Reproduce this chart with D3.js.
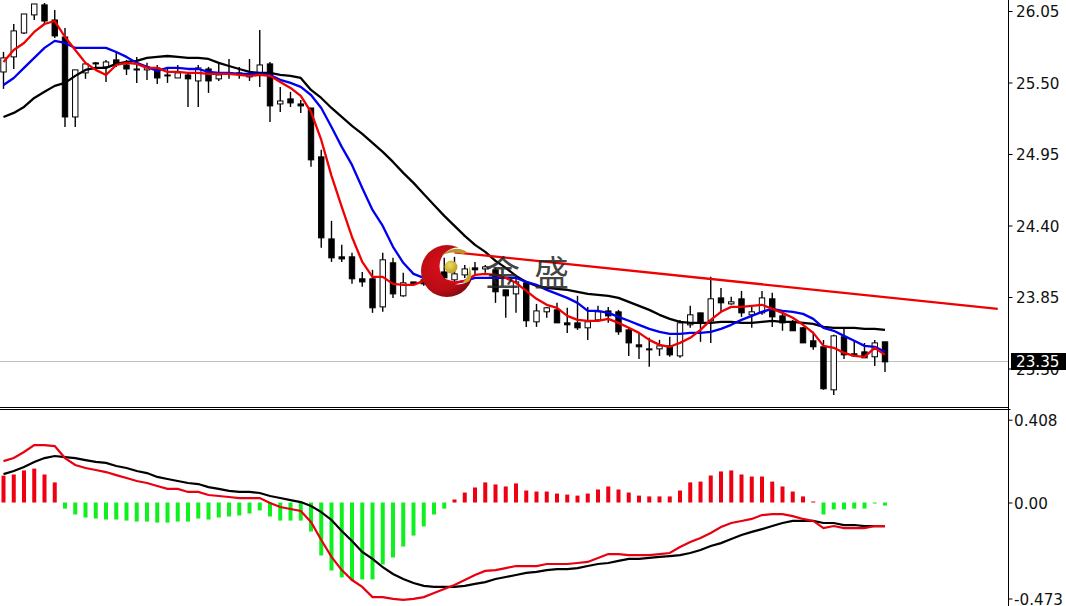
<!DOCTYPE html>
<html>
<head>
<meta charset="utf-8">
<script src="https://cdn.jsdelivr.net/npm/d3@7/dist/d3.min.js"></script>
<style>
html,body{margin:0;padding:0;background:#fff;overflow:hidden}
svg{display:block}
</style>
</head>
<body>
<svg id="c" width="1066" height="606"></svg>
<script>
const opens=[25.581,25.697,25.881,26.02,26.097,25.981,25.85,25.235,25.574,25.651,25.62,25.674,25.635,25.604,25.597,25.612,25.558,25.535,25.558,25.512,25.604,25.528,25.574,25.574,25.558,25.566,25.643,25.335,25.374,25.335,
25.304,24.928,24.297,24.159,24.159,23.99,23.99,23.774,24.113,23.859,23.966,23.982,23.943,24.043,23.982,24.02,24.074,24.066,24.059,23.905,23.874,23.959,23.659,23.736,23.751,23.651,23.651,23.613,23.674,
23.743,23.736,23.597,23.482,23.451,23.451,23.474,23.397,23.636,23.728,23.667,23.843,23.797,23.836,23.713,23.728,23.836,23.705,23.659,23.613,23.513,23.467,23.136,23.544,23.413,23.428,23.39,23.505];
const highs=[25.735,25.95,26.027,26.104,26.112,26.058,25.92,25.597,25.651,25.658,25.674,25.735,25.674,25.697,25.651,25.635,25.612,25.635,25.581,25.635,25.62,25.651,25.681,25.62,25.681,25.904,25.658,25.466,25.428,25.366,
25.304,24.982,24.436,24.251,24.19,24.043,24.059,24.19,24.151,24.036,23.966,23.982,24.059,24.151,24.159,24.097,24.12,24.097,24.074,23.905,24.005,23.966,23.797,23.774,23.805,23.767,23.859,23.774,23.782,
23.774,23.751,23.613,23.574,23.536,23.52,23.544,23.674,23.782,23.728,24.005,23.92,23.851,23.897,23.774,23.897,23.882,23.728,23.674,23.62,23.582,23.52,23.559,23.62,23.52,23.497,23.52,23.505];
const lows=[25.451,25.604,25.873,25.981,25.95,25.843,25.158,25.158,25.528,25.604,25.504,25.62,25.558,25.497,25.52,25.489,25.497,25.535,25.312,25.312,25.42,25.512,25.528,25.528,25.512,25.466,25.197,25.274,25.312,25.266,
24.851,24.228,24.12,24.12,23.951,23.928,23.728,23.736,23.843,23.851,23.951,23.936,23.905,23.959,23.966,23.997,24.02,24.036,23.805,23.69,23.728,23.62,23.62,23.69,23.651,23.574,23.597,23.52,23.659,
23.651,23.559,23.397,23.374,23.313,23.397,23.39,23.382,23.613,23.505,23.497,23.728,23.79,23.697,23.613,23.713,23.62,23.59,23.59,23.497,23.444,23.136,23.097,23.374,23.39,23.382,23.32,23.274];
const closes=[25.689,25.897,26.027,26.104,25.973,25.858,25.235,25.597,25.643,25.643,25.658,25.643,25.604,25.597,25.62,25.535,25.551,25.574,25.528,25.612,25.512,25.558,25.566,25.566,25.543,25.635,25.32,25.358,25.343,25.32,
24.905,24.305,24.151,24.143,23.99,23.966,23.767,24.136,23.874,23.959,23.951,23.951,23.997,23.997,24.028,24.066,24.059,24.082,23.89,23.859,23.966,23.667,23.743,23.767,23.651,23.636,23.613,23.659,23.736,
23.705,23.582,23.497,23.467,23.444,23.474,23.405,23.651,23.713,23.651,23.836,23.805,23.813,23.728,23.736,23.843,23.697,23.651,23.59,23.497,23.467,23.144,23.551,23.405,23.397,23.382,23.497,23.351];
const maFast=[25.658,25.75,25.804,25.889,25.95,25.973,25.85,25.75,25.651,25.597,25.558,25.635,25.651,25.643,25.612,25.612,25.581,25.581,25.574,25.574,25.566,25.566,25.566,25.558,25.551,25.558,25.551,25.504,25.458,25.397,
25.274,25.058,24.782,24.543,24.312,24.12,24.005,24.005,23.951,23.943,23.943,23.974,23.99,23.982,23.959,23.974,24.02,24.028,24.02,23.997,23.959,23.897,23.836,23.79,23.767,23.705,23.674,23.667,23.667,
23.682,23.651,23.613,23.574,23.52,23.482,23.467,23.497,23.536,23.597,23.674,23.736,23.774,23.774,23.782,23.79,23.759,23.728,23.69,23.636,23.574,23.474,23.459,23.42,23.397,23.39,23.459,23.405];
const maMid=[25.481,25.535,25.612,25.689,25.766,25.82,25.804,25.766,25.766,25.766,25.766,25.735,25.697,25.651,25.62,25.589,25.612,25.612,25.604,25.604,25.581,25.574,25.574,25.566,25.566,25.566,25.558,25.52,25.497,25.466,
25.404,25.304,25.158,25.005,24.866,24.689,24.52,24.397,24.236,24.113,24.028,23.997,23.982,23.966,23.959,23.974,23.997,23.997,23.997,23.997,23.997,23.966,23.943,23.905,23.874,23.843,23.805,23.743,23.743,
23.728,23.697,23.667,23.636,23.605,23.582,23.567,23.567,23.574,23.574,23.582,23.605,23.636,23.674,23.705,23.736,23.759,23.743,23.736,23.72,23.682,23.613,23.59,23.551,23.513,23.474,23.467,23.428];
const maSlow=[25.235,25.266,25.312,25.381,25.428,25.474,25.497,25.551,25.597,25.612,25.612,25.643,25.658,25.666,25.689,25.697,25.704,25.697,25.689,25.689,25.681,25.651,25.627,25.604,25.581,25.574,25.574,25.558,25.551,25.535,
25.443,25.381,25.304,25.235,25.166,25.105,25.035,24.966,24.889,24.805,24.728,24.643,24.558,24.474,24.397,24.32,24.251,24.197,24.128,24.074,24.012,23.966,23.936,23.92,23.912,23.905,23.89,23.874,23.866,
23.859,23.843,23.813,23.782,23.751,23.713,23.682,23.659,23.651,23.651,23.651,23.659,23.659,23.651,23.651,23.659,23.667,23.659,23.659,23.651,23.643,23.62,23.613,23.613,23.613,23.605,23.605,23.597];
const macdRed=[.204,.219,.249,.283,.283,.278,.219,.185,.170,.160,.150,.135,.121,.106,.096,.081,.067,.067,.052,.052,.037,.032,.027,.022,.022,.022,-.002,-.022,-.032,-.042,
-.096,-.185,-.268,-.333,-.382,-.416,-.466,-.466,-.475,-.480,-.475,-.466,-.446,-.426,-.406,-.382,-.357,-.337,-.333,-.323,-.313,-.313,-.313,-.303,-.303,-.303,-.298,-.293,-.273,
-.254,-.254,-.259,-.259,-.259,-.254,-.249,-.219,-.195,-.175,-.150,-.121,-.101,-.091,-.081,-.062,-.057,-.057,-.067,-.081,-.091,-.126,-.116,-.126,-.126,-.126,-.116,-.116];
const macdBlack=[.140,.155,.175,.200,.219,.229,.224,.219,.209,.200,.195,.180,.170,.155,.145,.126,.116,.106,.096,.091,.076,.067,.057,.052,.052,.047,.032,.022,.012,.002,
-.017,-.047,-.086,-.140,-.190,-.244,-.278,-.318,-.352,-.377,-.397,-.411,-.416,-.416,-.416,-.411,-.401,-.392,-.377,-.367,-.357,-.347,-.342,-.333,-.328,-.328,-.323,-.313,-.303,
-.298,-.288,-.278,-.278,-.273,-.268,-.264,-.259,-.249,-.234,-.214,-.200,-.180,-.160,-.145,-.131,-.116,-.101,-.091,-.091,-.091,-.101,-.101,-.111,-.111,-.116,-.116,-.116];
const macdHist=[.132,.138,.158,.167,.138,.099,-.030,-.059,-.074,-.079,-.084,-.084,-.089,-.094,-.094,-.099,-.099,-.094,-.094,-.079,-.084,-.074,-.069,-.064,-.054,-.039,-.069,-.089,-.089,-.089,
-.143,-.261,-.335,-.369,-.384,-.379,-.379,-.305,-.271,-.217,-.163,-.118,-.059,-.030,.015,.049,.074,.099,.089,.079,.094,.059,.054,.054,.044,.039,.034,.044,.064,
.079,.064,.049,.034,.030,.030,.030,.059,.099,.103,.133,.153,.158,.138,.128,.128,.103,.079,.054,.030,.005,-.059,-.034,-.034,-.030,-.030,-.005,-.015];
const priceTicks=[26.05,25.50,24.95,24.40,23.85,23.30];
const macdTicks=[0.408,0,-0.473];
const macdTickLabels=["0.408","0.00","-0.473"];
const lastPrice=23.35;
const trendIdx=[44,97];
const trendPrice=[24.194,23.759];

const svg=d3.select("#c");
const W=1066,H=606,axisX=1008.5;
const idx=d3.range(opens.length);
const x=d3.scaleLinear().domain([0,86]).range([3.5,885]);
const y=d3.scaleLinear().domain([26.05,23.30]).range([11,368.5]);
const ym=d3.scaleLinear().domain([0,-0.473]).range([502.5,598.5]);
const FONT='"DejaVu Sans",sans-serif';

svg.append("rect").attr("width",W).attr("height",H).attr("fill","#fff");
const defs=svg.append("defs");
defs.append("clipPath").attr("id","pane").append("rect").attr("width",axisX).attr("height",407);

const rg=defs.append("radialGradient").attr("id","moon").attr("cx","0.38").attr("cy","0.42").attr("r","0.7");
rg.append("stop").attr("offset","0").attr("stop-color","#d80f1a");
rg.append("stop").attr("offset","0.65").attr("stop-color","#b80c14");
rg.append("stop").attr("offset","1").attr("stop-color","#70090c");
const gg=defs.append("radialGradient").attr("id","ball").attr("cx","0.4").attr("cy","0.35").attr("r","0.7");
gg.append("stop").attr("offset","0").attr("stop-color","#ecdc60");
gg.append("stop").attr("offset","1").attr("stop-color","#b89a20");
const mask=defs.append("mask").attr("id","moonMask").attr("maskUnits","userSpaceOnUse").attr("x",400).attr("y",230).attr("width",100).attr("height",90);
mask.append("rect").attr("x",400).attr("y",230).attr("width",100).attr("height",90).attr("fill","#fff");
mask.append("circle").attr("cx",458).attr("cy",266).attr("r",18.5).attr("fill","#000");

// last price line
svg.append("line").attr("x1",0).attr("x2",axisX).attr("y1",361.5).attr("y2",361.5)
  .attr("stroke","#c0c0c0").attr("stroke-width",1);

// candles
const main=svg.append("g").attr("clip-path","url(#pane)");
const candle=main.append("g").selectAll("g").data(idx).join("g");
candle.append("line").attr("x1",i=>x(i)).attr("x2",i=>x(i)).attr("y1",i=>y(highs[i])).attr("y2",i=>y(lows[i]))
  .attr("stroke","#000").attr("stroke-width",1.4);
candle.append("rect").attr("x",i=>x(i)-2.7).attr("width",5.4)
  .attr("y",i=>Math.min(y(opens[i]),y(closes[i])))
  .attr("height",i=>Math.max(1,Math.abs(y(opens[i])-y(closes[i]))))
  .attr("fill",i=>closes[i]>opens[i]?"#fff":"#000").attr("stroke","#000").attr("stroke-width",1);

// averages
const lineP=d3.line().x((d,i)=>x(i)).y(d=>y(d));
[[maSlow,"#000"],[maMid,"#0000f0"],[maFast,"#f00000"]].forEach(([s,c])=>{
  main.append("path").attr("d",lineP(s)).attr("fill","none").attr("stroke",c).attr("stroke-width",2.3).attr("stroke-linejoin","round");
});
// trend line
main.append("line").attr("x1",x(trendIdx[0])).attr("x2",x(trendIdx[1])).attr("y1",y(trendPrice[0])).attr("y2",y(trendPrice[1]))
  .attr("stroke","#f00000").attr("stroke-width",2.3);

// logo watermark
const logo=svg.append("g").attr("class","logo");
logo.append("circle").attr("cx",447).attr("cy",271).attr("r",26).attr("fill","url(#moon)").attr("mask","url(#moonMask)");
logo.append("path").attr("fill","#b8962a").attr("d","M441 256 Q452 246 463 250 Q470 252 463 254 Q450 250 441 256Z");
logo.append("path").attr("fill","#c8a830").attr("d","M463 282 Q470 276 469 266 Q473 274 470 280 Q467 284 463 282Z");
logo.append("circle").attr("cx",451).attr("cy",267).attr("r",6.5).attr("fill","url(#ball)");
logo.append("text").attr("x",485).attr("y",286).attr("font-family",'"Noto Sans CJK SC"').attr("font-size",35).attr("fill","#222").attr("fill-opacity",0.85).text("金");
logo.append("text").attr("x",534).attr("y",286).attr("font-family",'"Noto Sans CJK SC"').attr("font-size",35).attr("fill","#222").attr("fill-opacity",0.85).text("盛");

// MACD histogram
svg.append("g").selectAll("rect").data(idx).join("rect")
  .attr("x",i=>x(i)-2).attr("width",4)
  .attr("y",i=>Math.min(ym(0),ym(macdHist[i])))
  .attr("height",i=>Math.abs(ym(macdHist[i])-ym(0)))
  .attr("fill",i=>macdHist[i]>=0?"#ee0010":"#10f020");
const lineM=d3.line().x((d,i)=>x(i)).y(d=>ym(d));
svg.append("path").attr("d",lineM(macdBlack)).attr("fill","none").attr("stroke","#000").attr("stroke-width",2.2);
svg.append("path").attr("d",lineM(macdRed)).attr("fill","none").attr("stroke","#e80010").attr("stroke-width",2.2);

// axes and frame
const ax1=d3.axisRight(y).tickValues(priceTicks).tickFormat(d3.format(".2f")).tickSize(4).tickPadding(3.5);
const ax2=d3.axisRight(ym).tickValues(macdTicks).tickFormat((d,i)=>macdTickLabels[i]).tickSize(4).tickPadding(1.5);
[ax1,ax2].forEach(a=>{
  const g=svg.append("g").attr("transform",`translate(${axisX},0)`).call(a);
  g.select(".domain").remove();
  g.selectAll("text").attr("font-family",FONT).attr("font-size",15.2).attr("fill","#111").attr("dy","0.38em");
  g.selectAll("line").attr("stroke","#000");
});
svg.append("line").attr("x1",axisX).attr("x2",axisX).attr("y1",0).attr("y2",H).attr("stroke","#000").attr("stroke-width",1);
svg.append("line").attr("x1",0).attr("x2",axisX).attr("y1",407.5).attr("y2",407.5).attr("stroke","#000");
svg.append("line").attr("x1",0).attr("x2",axisX+2).attr("y1",409.5).attr("y2",409.5).attr("stroke","#000");

// current price tag
svg.append("rect").attr("x",1011).attr("y",353).attr("width",55).attr("height",17).attr("fill","#000");
svg.append("text").attr("x",1016).attr("y",y(lastPrice)).attr("dy","0.32em").attr("font-family",FONT).attr("font-size",15.2).attr("fill","#fff").text(d3.format(".2f")(lastPrice));
</script>
</body>
</html>
